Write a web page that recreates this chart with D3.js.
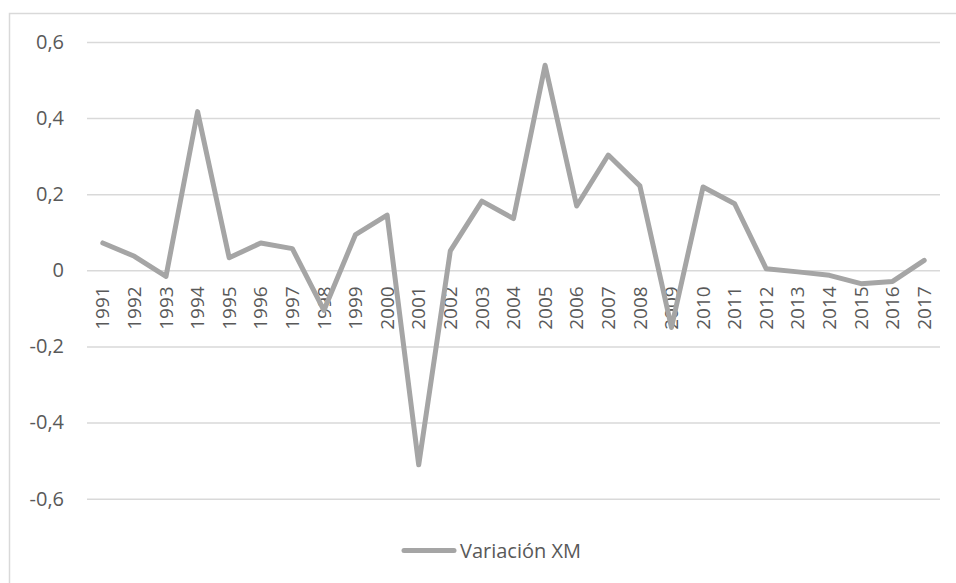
<!DOCTYPE html>
<html>
<head>
<meta charset="utf-8">
<script src="https://cdn.jsdelivr.net/npm/d3@7"></script>
<style>
  html, body { margin: 0; padding: 0; background: #fff; }
  svg { display: block; }
</style>
</head>
<body>
<svg id="chart" width="956" height="583"></svg>
<script>
const years = ["1991","1992","1993","1994","1995","1996","1997","1998","1999","2000","2001","2002","2003","2004","2005","2006","2007","2008","2009","2010","2011","2012","2013","2014","2015","2016","2017"];
const values = [0.072,0.037,-0.016,0.417,0.033,0.072,0.057,-0.105,0.094,0.145,-0.511,0.051,0.182,0.136,0.539,0.169,0.303,0.222,-0.15,0.219,0.175,0.004,-0.004,-0.013,-0.035,-0.029,0.026];
const yTicks = [-0.6,-0.4,-0.2,0,0.2,0.4,0.6];
const seriesName = "Variación XM";

const svg = d3.select("#chart");
const font = "'Open Sans', 'Liberation Sans', sans-serif";

svg.append("rect").attr("x", 9.5).attr("y", 13.5).attr("width", 960).attr("height", 590)
  .attr("fill", "none").attr("stroke", "#d9d9d9").attr("stroke-width", 1.5);

const left = 87, right = 940;
const y = d3.scaleLinear().domain([-0.6, 0.6]).range([498.7, 42]);
const x = d3.scaleBand().domain(years).range([left, right]).padding(0);

const yAxis = d3.axisLeft(y).tickValues(yTicks).tickSize(-(right - left))
  .tickFormat(d => d === 0 ? "0" : d3.format(".1f")(d).replace(".", ",").replace("−", "-"));
const gy = svg.append("g").attr("transform", `translate(${left},0)`).call(yAxis);
gy.select(".domain").remove();
gy.selectAll(".tick line").attr("stroke", "#d9d9d9").attr("stroke-width", 1.5);
gy.selectAll(".tick text").attr("x", -23).attr("fill", "#595959")
  .attr("font-family", font).attr("font-size", 20);

const xAxis = d3.axisBottom(x).tickSize(0);
const gx = svg.append("g").attr("transform", `translate(0,${y(0)})`).call(xAxis);
gx.select(".domain").remove();
gx.attr("font-size", null).attr("font-family", null);
gx.selectAll(".tick text")
  .attr("transform", "rotate(-90)")
  .attr("x", -16).attr("y", 0).attr("dy", "0.35em")
  .style("text-anchor", "end")
  .attr("fill", "#595959")
  .attr("font-family", font).attr("font-size", 19);

const line = d3.line().x((d, i) => x(years[i]) + x.bandwidth() / 2).y(d => y(d));
svg.append("path").datum(values).attr("d", line)
  .attr("fill", "none").attr("stroke", "#a5a5a5").attr("stroke-width", 5)
  .attr("stroke-linejoin", "round").attr("stroke-linecap", "round");

const lg = svg.append("g");
lg.append("line").attr("x1", 404).attr("x2", 454).attr("y1", 550.5).attr("y2", 550.5)
  .attr("stroke", "#a5a5a5").attr("stroke-width", 5).attr("stroke-linecap", "round");
lg.append("text").attr("x", 460).attr("y", 550.5).attr("dy", "0.35em")
  .attr("fill", "#595959").attr("font-family", font).attr("font-size", 20)
  .text(seriesName);
</script>
</body>
</html>
